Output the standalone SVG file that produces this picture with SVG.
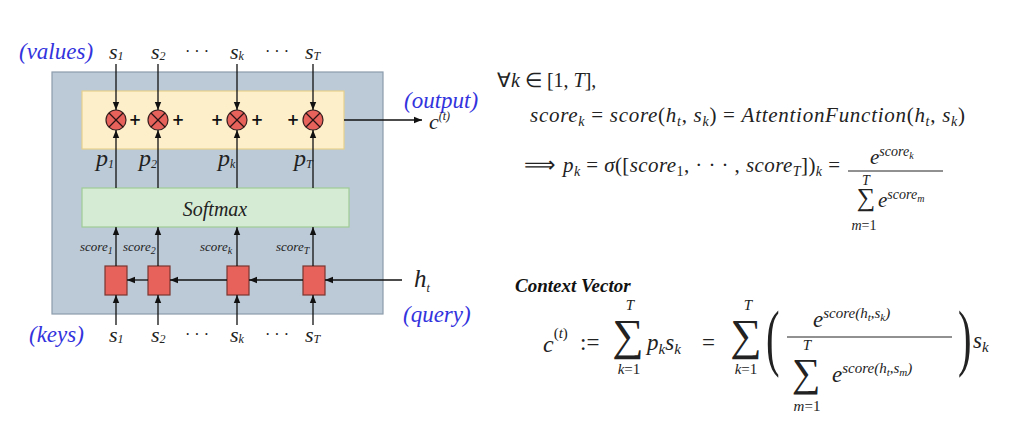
<svg xmlns="http://www.w3.org/2000/svg" width="1024" height="440" viewBox="0 0 1024 440">
<defs>
<marker id="ah" viewBox="0 0 10 10" refX="10" refY="5" markerWidth="8" markerHeight="8" orient="auto" markerUnits="userSpaceOnUse">
<path d="M0,1 L10,5 L0,9 z" fill="#111"/>
</marker>
<style>
.t{font-family:"Liberation Serif","DejaVu Serif",serif;fill:#1a1a1a}
.blue{font-family:"Liberation Serif",serif;font-style:italic;fill:#3333dd}
.var{font-family:"Liberation Serif",serif;font-style:italic;fill:#222}
.sc{font-family:"Liberation Serif",serif;font-style:italic;fill:#222}
.conn line{stroke:#111;stroke-width:1.3;marker-end:url(#ah)}
.op circle{fill:#e8625c;stroke:#3a2020;stroke-width:1.2}
.op line{stroke:#2a1515;stroke-width:1.2}
.cell{fill:#e8625c;stroke:#7a3530;stroke-width:1.2}
.plus{font-family:"DejaVu Sans",sans-serif;font-weight:bold;fill:#111}
.m{font-family:"Liberation Serif",serif;fill:#222}
</style>
</defs>
<rect width="1024" height="440" fill="#fff"/>

<g id="attention-block">
<rect x="52" y="72" width="331" height="242" fill="#bccad7" stroke="#8d9cab" stroke-width="1.2"/>
</g>
<g id="weighted-sum">
<rect x="82" y="91" width="262" height="58" fill="#fdefca" stroke="#e7d08c" stroke-width="1.2"/>
</g>
<g id="softmax">
<rect x="82" y="188" width="267" height="39" fill="#d6ebd4" stroke="#9fcc97" stroke-width="1.2"/>
<text class="var" x="215" y="216" text-anchor="middle" font-size="20">Softmax</text>
</g>

<g id="mult-1" class="op"><circle cx="116" cy="120" r="10"/><line x1="109" y1="113" x2="123" y2="127"/><line x1="123" y1="113" x2="109" y2="127"/></g>
<g id="mult-2" class="op"><circle cx="158" cy="120" r="10"/><line x1="151" y1="113" x2="165" y2="127"/><line x1="165" y1="113" x2="151" y2="127"/></g>
<g id="mult-k" class="op"><circle cx="237" cy="120" r="10"/><line x1="230" y1="113" x2="244" y2="127"/><line x1="244" y1="113" x2="230" y2="127"/></g>
<g id="mult-T" class="op"><circle cx="313" cy="120" r="10"/><line x1="306" y1="113" x2="320" y2="127"/><line x1="320" y1="113" x2="306" y2="127"/></g>
<g id="plus-signs">
<text class="plus" x="135" y="125" text-anchor="middle" font-size="15">+</text>
<text class="plus" x="178" y="125" text-anchor="middle" font-size="15">+</text>
<text class="plus" x="217" y="125" text-anchor="middle" font-size="15">+</text>
<text class="plus" x="257" y="125" text-anchor="middle" font-size="15">+</text>
<text class="plus" x="293" y="125" text-anchor="middle" font-size="15">+</text>
</g>

<g id="score-1"><rect class="cell" x="105" y="266" width="22" height="29"/></g>
<g id="score-2"><rect class="cell" x="148" y="266" width="22" height="29"/></g>
<g id="score-k"><rect class="cell" x="227" y="266" width="22" height="29"/></g>
<g id="score-T"><rect class="cell" x="303" y="266" width="22" height="29"/></g>

<g id="connectors" class="conn">
<line x1="116" y1="64" x2="116" y2="110"/>
<line x1="158" y1="64" x2="158" y2="110"/>
<line x1="237" y1="64" x2="237" y2="110"/>
<line x1="313" y1="64" x2="313" y2="110"/>
<line x1="116" y1="188" x2="116" y2="130"/>
<line x1="158" y1="188" x2="158" y2="130"/>
<line x1="237" y1="188" x2="237" y2="130"/>
<line x1="313" y1="188" x2="313" y2="130"/>
<line x1="344" y1="120" x2="422" y2="120"/>
<line x1="116" y1="266" x2="116" y2="227"/>
<line x1="158" y1="266" x2="158" y2="227"/>
<line x1="237" y1="266" x2="237" y2="227"/>
<line x1="313" y1="266" x2="313" y2="227"/>
<line x1="402" y1="280" x2="325" y2="280"/>
<line x1="303" y1="280" x2="249" y2="280"/>
<line x1="227" y1="280" x2="170" y2="280"/>
<line x1="148" y1="280" x2="127" y2="280"/>
<line x1="116" y1="325" x2="116" y2="295"/>
<line x1="158" y1="325" x2="158" y2="295"/>
<line x1="237" y1="325" x2="237" y2="295"/>
<line x1="313" y1="325" x2="313" y2="295"/>
</g>

<g id="values-labels">
<text class="blue" x="19" y="59" font-size="23">(values)</text>
<text class="var" x="109" y="59" font-size="22">s<tspan font-size="12" dy="1">1</tspan></text>
<text class="var" x="151" y="59" font-size="22">s<tspan font-size="12" dy="1">2</tspan></text>
<text class="var" x="230" y="59" font-size="22">s<tspan font-size="12" dy="1">k</tspan></text>
<text class="var" x="305" y="59" font-size="22">s<tspan font-size="12" dy="1">T</tspan></text>
<text class="t" x="197" y="57" text-anchor="middle" font-size="16">· · ·</text>
<text class="t" x="277" y="57" text-anchor="middle" font-size="16">· · ·</text>
</g>
<g id="weight-labels">
<text class="var" x="96" y="166" font-size="24">p<tspan font-size="12" dy="2">1</tspan></text>
<text class="var" x="139" y="166" font-size="24">p<tspan font-size="12" dy="2">2</tspan></text>
<text class="var" x="218" y="166" font-size="24">p<tspan font-size="12" dy="2">k</tspan></text>
<text class="var" x="294" y="166" font-size="24">p<tspan font-size="12" dy="2">T</tspan></text>
</g>
<g id="score-labels">
<text class="sc" x="80" y="251" font-size="13">score<tspan font-size="10" dy="3">1</tspan></text>
<text class="sc" x="123" y="251" font-size="13">score<tspan font-size="10" dy="3">2</tspan></text>
<text class="sc" x="200" y="251" font-size="13">score<tspan font-size="10" dy="3">k</tspan></text>
<text class="sc" x="276" y="251" font-size="13">score<tspan font-size="10" dy="3">T</tspan></text>
</g>
<g id="keys-labels">
<text class="blue" x="29" y="342" font-size="23">(keys)</text>
<text class="var" x="109" y="342" font-size="22">s<tspan font-size="12" dy="1">1</tspan></text>
<text class="var" x="151" y="342" font-size="22">s<tspan font-size="12" dy="1">2</tspan></text>
<text class="var" x="230" y="342" font-size="22">s<tspan font-size="12" dy="1">k</tspan></text>
<text class="var" x="305" y="342" font-size="22">s<tspan font-size="12" dy="1">T</tspan></text>
<text class="t" x="197" y="340" text-anchor="middle" font-size="16">· · ·</text>
<text class="t" x="277" y="340" text-anchor="middle" font-size="16">· · ·</text>
</g>
<g id="query">
<text class="var" x="414" y="287" font-size="25">h<tspan font-size="12" dy="5">t</tspan></text>
<text class="blue" x="403" y="322" font-size="23">(query)</text>
</g>
<g id="output">
<text class="blue" x="404" y="108" font-size="23">(output)</text>
<text class="var" x="429" y="129" font-size="22">c<tspan font-size="12" dy="-9">(t)</tspan></text>
</g>

<g id="equations">
<text class="m" x="497" y="87" font-size="20"><tspan>∀</tspan><tspan font-style="italic">k</tspan> ∈ [1, <tspan font-style="italic">T</tspan>],</text>
<text class="m" x="530" y="122" font-size="21" textLength="435" lengthAdjust="spacing"><tspan font-style="italic">score</tspan><tspan font-size="14" font-style="italic" dy="4">k</tspan><tspan dy="-4"> = </tspan><tspan font-style="italic">score</tspan>(<tspan font-style="italic">h</tspan><tspan font-size="14" font-style="italic" dy="4">t</tspan><tspan dy="-4">, </tspan><tspan font-style="italic">s</tspan><tspan font-size="14" font-style="italic" dy="4">k</tspan><tspan dy="-4">) = </tspan><tspan font-style="italic">AttentionFunction</tspan>(<tspan font-style="italic">h</tspan><tspan font-size="14" font-style="italic" dy="4">t</tspan><tspan dy="-4">, </tspan><tspan font-style="italic">s</tspan><tspan font-size="14" font-style="italic" dy="4">k</tspan><tspan dy="-4">)</tspan></text>
<text class="m" x="524" y="172" font-family="DejaVu Serif" font-size="22">⟹</text>
<text class="m" x="563" y="172" font-size="21" textLength="277" lengthAdjust="spacing"><tspan font-style="italic">p</tspan><tspan font-size="14" font-style="italic" dy="4">k</tspan><tspan dy="-4"> = </tspan><tspan font-style="italic">σ</tspan>([<tspan font-style="italic">score</tspan><tspan font-size="14" dy="4">1</tspan><tspan dy="-4">, · · · , </tspan><tspan font-style="italic">score</tspan><tspan font-size="14" font-style="italic" dy="4">T</tspan><tspan dy="-4">])</tspan><tspan font-size="14" font-style="italic" dy="4">k</tspan><tspan dy="-4"> =</tspan></text>
<text class="m" x="870" y="164" font-size="21" font-style="italic">e<tspan font-size="14" dy="-8">score</tspan><tspan font-size="10" dy="3">k</tspan></text>
<line x1="848" y1="171" x2="943" y2="171" stroke="#222" stroke-width="1"/>
<text class="m" x="866" y="185" font-size="14" font-style="italic" text-anchor="middle">T</text>
<text class="m" x="866" y="206" font-size="26" text-anchor="middle">∑</text>
<text class="m" x="864" y="230" font-size="14" text-anchor="middle"><tspan font-style="italic">m</tspan>=1</text>
<text class="m" x="878" y="207" font-size="21" font-style="italic">e<tspan font-size="14" dy="-8">score</tspan><tspan font-size="10" dy="3">m</tspan></text>

<text x="515" y="292" font-family="Liberation Serif" font-weight="bold" font-style="italic" font-size="19" fill="#111">Context Vector</text>
<text class="m" x="543" y="352" font-size="24" font-style="italic">c<tspan font-size="15" dy="-14" font-style="normal">(</tspan><tspan font-size="15" font-style="italic">t</tspan><tspan font-size="15" font-style="normal">)</tspan></text>
<text class="m" x="580" y="350" font-size="23">:=</text>
<text class="m" x="630" y="310" font-size="15" font-style="italic" text-anchor="middle">T</text>
<text class="m" x="628" y="350" font-size="44" text-anchor="middle">∑</text>
<text class="m" x="629" y="374" font-size="15" text-anchor="middle"><tspan font-style="italic">k</tspan>=1</text>
<text class="m" x="647" y="350" font-size="23" font-style="italic">p<tspan font-size="15" dy="4">k</tspan><tspan dy="-4">s</tspan><tspan font-size="15" dy="4">k</tspan></text>
<text class="m" x="702" y="350" font-size="23">=</text>
<text class="m" x="748" y="310" font-size="15" font-style="italic" text-anchor="middle">T</text>
<text class="m" x="746" y="350" font-size="44" text-anchor="middle">∑</text>
<text class="m" x="746" y="374" font-size="15" text-anchor="middle"><tspan font-style="italic">k</tspan>=1</text>
<text class="m" font-size="74" transform="translate(766,362) scale(0.55,1)">(</text>
<text class="m" x="813" y="327" font-size="23" font-style="italic">e<tspan font-size="15" dy="-9">score(h</tspan><tspan font-size="11" dy="3">t</tspan><tspan font-size="15" dy="-3">,s</tspan><tspan font-size="11" dy="3">k</tspan><tspan font-size="15" dy="-3">)</tspan></text>
<line x1="787" y1="337" x2="952" y2="337" stroke="#222" stroke-width="1"/>
<text class="m" x="807" y="350" font-size="15" font-style="italic" text-anchor="middle">T</text>
<text class="m" x="806" y="386" font-size="40" text-anchor="middle">∑</text>
<text class="m" x="807" y="411" font-size="15" text-anchor="middle"><tspan font-style="italic">m</tspan>=1</text>
<text class="m" x="832" y="382" font-size="23" font-style="italic">e<tspan font-size="15" dy="-9">score(h</tspan><tspan font-size="11" dy="3">t</tspan><tspan font-size="15" dy="-3">,s</tspan><tspan font-size="11" dy="3">m</tspan><tspan font-size="15" dy="-3">)</tspan></text>
<text class="m" font-size="74" transform="translate(958,362) scale(0.55,1)">)</text>
<text class="m" x="973" y="348" font-size="23" font-style="italic">s<tspan font-size="15" dy="4">k</tspan></text>
</g>
</svg>
